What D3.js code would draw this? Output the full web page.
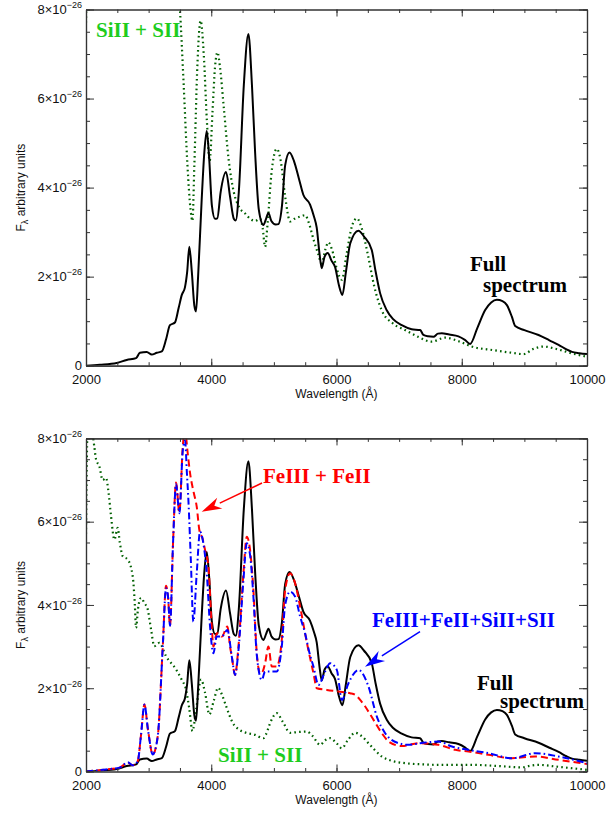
<!DOCTYPE html>
<html>
<head>
<meta charset="utf-8">
<script src="https://cdn.jsdelivr.net/npm/d3@7"></script>
<style>
  body { margin: 0; background: #fff; }
  svg { display: block; }
</style>
</head>
<body>
<div id="chart"></div>
<script>
// full spectrum, flux in units of 1e-26
const fullSpectrum = [
  [2000,0],[2220,0.02],[2490,0.06],[2650,0.13],[2800,0.17],[2860,0.29],[2970,0.31],[3050,0.25],
  [3130,0.29],[3210,0.32],[3280,0.6],[3340,0.91],[3420,0.97],[3480,1.3],[3530,1.59],[3580,1.76],
  [3615,2.1],[3650,2.67],[3690,2.1],[3730,1.35],[3757,1.22],[3790,2.0],[3847,3.72],[3890,4.8],
  [3928,5.27],[3965,4.7],[4010,3.6],[4060,3.3],[4097,3.31],[4150,3.9],[4236,4.35],[4300,3.8],
  [4360,3.3],[4391,3.26],[4440,3.9],[4520,6.3],[4593,7.45],[4650,6.3],[4700,4.8],[4760,3.5],
  [4833,3.16],[4875,3.3],[4913,3.43],[4960,3.25],[5030,3.17],[5073,3.18],[5130,3.6],[5180,4.5],
  [5250,4.79],[5320,4.6],[5400,4.2],[5470,3.84],[5578,3.62],[5640,3.35],[5684,3.1],[5730,2.5],
  [5764,2.19],[5810,2.45],[5860,2.53],[5920,2.36],[5977,2.22],[6040,1.8],[6094,1.59],[6150,2.1],
  [6220,2.75],[6350,3.03],[6440,2.9],[6563,2.6],[6620,2.15],[6696,1.63],[6800,1.25],[6900,1.05],
  [7042,0.91],[7200,0.82],[7335,0.8],[7388,0.69],[7460,0.66],[7548,0.65],[7620,0.72],[7681,0.73],
  [7800,0.7],[7947,0.66],[8050,0.58],[8134,0.49],[8250,0.85],[8374,1.25],[8470,1.42],[8561,1.48],
  [8650,1.45],[8721,1.36],[8800,1.1],[8853,0.89],[9000,0.8],[9226,0.69],[9400,0.57],[9546,0.47],
  [9680,0.36],[9760,0.31],[9880,0.28],[10000,0.26]
];

// SiII + SII, as scaled in the upper panel
const siliconTop = [
  [2000,7.7],[2030,9.5],[3400,9.5],[3500,8.0],[3560,6.3],[3620,4.5],[3670,3.5],[3700,3.25],
  [3730,4.5],[3780,6.8],[3830,7.75],[3880,7.0],[3930,5.5],[3975,4.6],[4020,5.7],[4060,6.7],
  [4100,7.04],[4140,6.7],[4200,5.8],[4280,4.6],[4360,3.9],[4450,3.55],[4540,3.42],[4620,3.3],
  [4700,3.25],[4780,3.3],[4820,3.1],[4860,2.67],[4900,3.2],[4960,4.3],[5046,4.87],[5110,4.6],
  [5180,3.8],[5260,3.24],[5330,3.3],[5420,3.35],[5500,3.38],[5560,3.2],[5640,2.8],[5710,2.5],
  [5760,2.3],[5820,2.6],[5870,2.77],[5930,2.6],[6000,2.2],[6085,1.93],[6160,2.5],[6250,3.15],
  [6325,3.31],[6400,3.1],[6500,2.5],[6600,1.8],[6720,1.25],[6900,0.95],[7096,0.8],[7300,0.65],
  [7520,0.54],[7735,0.63],[7950,0.55],[8160,0.43],[8500,0.35],[8800,0.29],[8985,0.26],[9150,0.38],
  [9305,0.43],[9500,0.38],[9750,0.28],[10000,0.2]
];

// SiII + SII, lower panel
const siliconBottom = [
  [2000,5.7],[2027,8.3],[2080,8.3],[2133,7.8],[2160,7.5],[2213,7.33],[2266,7.0],[2320,7.05],
  [2360,6.7],[2400,6.13],[2453,5.57],[2506,5.85],[2540,5.5],[2586,5.17],[2666,5.09],[2746,4.69],
  [2780,4.0],[2799,3.45],[2830,3.9],[2879,4.17],[2930,4.05],[2986,3.89],[3040,3.4],[3091,3.01],
  [3171,3.09],[3278,2.77],[3438,2.45],[3530,2.2],[3597,1.97],[3650,1.5],[3700,0.97],[3760,1.5],
  [3837,2.21],[3900,1.9],[3970,1.37],[4040,1.7],[4110,2.01],[4170,1.85],[4237,1.57],[4343,1.17],
  [4450,1.0],[4556,0.93],[4700,0.88],[4833,0.8],[4870,0.88],[4950,1.2],[5046,1.4],[5140,1.2],
  [5259,0.93],[5400,0.95],[5525,0.96],[5620,0.85],[5738,0.64],[5820,0.75],[5898,0.8],[6000,0.68],
  [6085,0.56],[6180,0.75],[6297,0.93],[6400,0.85],[6510,0.68],[6620,0.5],[6723,0.36],[6900,0.25],
  [7096,0.2],[7400,0.17],[7628,0.16],[8160,0.16],[8600,0.13],[8958,0.1],[9100,0.14],[9225,0.16],
  [9500,0.12],[10000,0.04]
];

// FeIII + FeII
const ironOnly = [
  [2000,0],[2320,0.05],[2533,0.09],[2666,0.21],[2746,0.15],[2826,0.25],[2880,0.9],[2933,1.61],
  [2990,1.0],[3066,0.41],[3146,0.85],[3226,3.01],[3278,4.46],[3310,4.2],[3342,3.5],[3390,5.5],
  [3438,6.94],[3491,6.22],[3545,7.8],[3582,8.2],[3620,7.7],[3662,7.16],[3720,6.7],[3768,6.36],
  [3810,5.8],[3860,5.6],[3901,5.32],[3954,4.92],[4008,3.48],[4034,3.0],[4088,3.32],[4130,3.3],
  [4168,3.24],[4258,3.48],[4300,3.0],[4328,2.76],[4381,2.32],[4434,3.0],[4514,4.76],[4567,5.64],
  [4620,5.32],[4673,4.36],[4727,2.84],[4780,2.36],[4820,2.4],[4860,2.6],[4913,3.0],[4967,2.52],
  [5046,2.52],[5126,3.16],[5180,4.36],[5260,4.76],[5339,4.52],[5419,3.96],[5526,3.1],[5632,2.36],
  [5686,2.0],[5845,1.96],[6031,1.92],[6218,1.88],[6298,1.84],[6378,1.72],[6458,1.56],[6591,1.24],
  [6724,0.92],[6850,0.7],[7043,0.61],[7310,0.68],[7628,0.64],[7896,0.52],[8109,0.48],[8428,0.4],
  [8802,0.32],[9173,0.36],[9546,0.28],[10000,0.18]
];

// FeIII + FeII + SiII + SII
const ironSilicon = [
  [2000,0],[2320,0.05],[2533,0.09],[2666,0.22],[2746,0.15],[2826,0.25],[2880,0.9],[2933,1.61],
  [2990,1.0],[3066,0.41],[3146,0.85],[3226,3.01],[3278,4.4],[3310,4.2],[3342,3.5],[3390,5.5],
  [3438,6.9],[3491,6.2],[3545,7.7],[3582,7.95],[3610,7.2],[3635,6.52],[3672,5.16],[3714,3.6],
  [3768,4.76],[3821,5.76],[3874,5.48],[3928,4.76],[3981,3.48],[4034,2.84],[4088,3.24],[4168,3.24],
  [4258,3.4],[4328,2.76],[4381,2.32],[4434,2.9],[4514,4.6],[4567,5.48],[4620,5.2],[4673,4.2],
  [4727,2.8],[4807,2.2],[4860,2.4],[4967,2.4],[5046,2.4],[5126,3.0],[5180,4.0],[5260,4.32],
  [5339,4.2],[5419,3.72],[5498,3.32],[5560,2.9],[5632,2.52],[5712,2.08],[5818,2.4],[5898,2.6],
  [6005,2.44],[6085,1.72],[6191,2.12],[6351,2.44],[6511,2.04],[6644,1.32],[6777,0.92],[6990,0.68],
  [7150,0.64],[7336,0.68],[7628,0.72],[7843,0.6],[8109,0.52],[8428,0.44],[8802,0.32],[9173,0.44],
  [9546,0.36],[10000,0.2]
];

const xMajor = [2000, 4000, 6000, 8000, 10000];
const xMinor = d3.range(2000, 10001, 500);
const yMajor = [0, 2, 4, 6, 8];
const yMinor = d3.range(0, 8.01, 0.5);

const W = 610, H = 814;
const left = 86, right = 587;

const svg = d3.select("#chart").append("svg")
    .attr("width", W)
    .attr("height", H)
    .style("font-family", "'Liberation Sans', Arial, sans-serif");

const x = d3.scaleLinear().domain([2000, 10000]).range([left, right]);

const panels = [
    { id: "top", y0: 365.7, y1: 9.5 },
    { id: "bot", y0: 771.5, y1: 438.4 }
];
panels.forEach(p => { p.y = d3.scaleLinear().domain([0, 8]).range([p.y0, p.y1]); });

const defs = svg.append("defs");
panels.forEach(p => {
    defs.append("clipPath").attr("id", "clip-" + p.id)
        .append("rect")
        .attr("x", left).attr("y", p.y1)
        .attr("width", right - left).attr("height", p.y0 - p.y1);
});

const drawLine = (p, data, color, width, dash) => {
    const line = d3.line()
        .x(d => x(d[0]))
        .y(d => p.y(d[1]))
        .curve(d3.curveMonotoneX);
    svg.append("path")
        .datum(data)
        .attr("clip-path", `url(#clip-${p.id})`)
        .attr("d", line)
        .attr("fill", "none")
        .attr("stroke", color)
        .attr("stroke-width", width)
        .attr("stroke-linejoin", "round")
        .attr("stroke-dasharray", dash);
};

const axisColor = "#333";

const drawAxes = p => {
    const styleAxis = g => {
        g.select(".domain").attr("stroke", axisColor).attr("stroke-width", 1.2);
        g.selectAll(".tick line").attr("stroke", axisColor).attr("stroke-width", 1);
    };
    // minor ticks
    svg.append("g").attr("transform", `translate(0,${p.y0})`)
        .call(d3.axisBottom(x).tickValues(xMinor).tickSize(-3.5).tickSizeOuter(0).tickFormat(""))
        .call(styleAxis);
    svg.append("g").attr("transform", `translate(0,${p.y1})`)
        .call(d3.axisTop(x).tickValues(xMinor).tickSize(-3.5).tickSizeOuter(0).tickFormat(""))
        .call(styleAxis);
    svg.append("g").attr("transform", `translate(${left},0)`)
        .call(d3.axisLeft(p.y).tickValues(yMinor).tickSize(-4).tickSizeOuter(0).tickFormat(""))
        .call(styleAxis);
    svg.append("g").attr("transform", `translate(${right},0)`)
        .call(d3.axisRight(p.y).tickValues(yMinor).tickSize(-4).tickSizeOuter(0).tickFormat(""))
        .call(styleAxis);

    // major ticks
    svg.append("g").attr("transform", `translate(0,${p.y0})`)
        .call(d3.axisBottom(x).tickValues(xMajor).tickSize(-7).tickSizeOuter(0)
            .tickPadding(9.5).tickFormat(d3.format("d")))
        .call(styleAxis)
        .call(g => g.selectAll("text").attr("font-size", 13).attr("fill", "#111")
            .attr("font-family", "'Liberation Sans', Arial, sans-serif"));
    svg.append("g").attr("transform", `translate(0,${p.y1})`)
        .call(d3.axisTop(x).tickValues(xMajor).tickSize(-7).tickSizeOuter(0).tickFormat(""))
        .call(styleAxis);
    svg.append("g").attr("transform", `translate(${right},0)`)
        .call(d3.axisRight(p.y).tickValues(yMajor).tickSize(-8).tickSizeOuter(0).tickFormat(""))
        .call(styleAxis);
    svg.append("g").attr("transform", `translate(${left},0)`)
        .call(d3.axisLeft(p.y).tickValues(yMajor).tickSize(-8).tickSizeOuter(0).tickPadding(4))
        .call(styleAxis)
        .call(g => g.selectAll("text").each(function (d) {
            const t = d3.select(this).text("")
                .attr("font-size", 13).attr("fill", "#111")
                .attr("font-family", "'Liberation Sans', Arial, sans-serif");
            if (d === 0) { t.text("0"); return; }
            t.append("tspan").text(d + "×10");
            t.append("tspan").attr("dy", -6).attr("font-size", 9).text("−26");
        }));

    // axis titles
    svg.append("text")
        .attr("x", (left + right) / 2)
        .attr("y", p.y0 + 32)
        .attr("text-anchor", "middle")
        .attr("font-size", 12)
        .attr("fill", "#111")
        .text("Wavelength (Å)");

    const yt = svg.append("text")
        .attr("transform", `translate(25,${(p.y0 + p.y1) / 2}) rotate(-90)`)
        .attr("text-anchor", "middle")
        .attr("font-size", 12)
        .attr("fill", "#111");
    yt.append("tspan").text("F");
    yt.append("tspan").attr("dy", 3).attr("font-size", 9).text("λ");
    yt.append("tspan").attr("dy", -3).text(" arbitrary units");
};

const label = (text, px, py, color) => {
    svg.append("text")
        .attr("x", px).attr("y", py)
        .attr("font-family", "'Liberation Serif', 'Times New Roman', serif")
        .attr("font-weight", "bold")
        .attr("font-size", 21)
        .attr("fill", color)
        .text(text);
};

const arrow = (x1, y1, x2, y2, color) => {
    const ang = Math.atan2(y2 - y1, x2 - x1);
    const len = 20, half = 6;
    const bx = x2 - len * Math.cos(ang), by = y2 - len * Math.sin(ang);
    const nx = -Math.sin(ang), ny = Math.cos(ang);
    svg.append("line")
        .attr("x1", x1).attr("y1", y1).attr("x2", bx).attr("y2", by)
        .attr("stroke", color).attr("stroke-width", 1.5);
    svg.append("path")
        .attr("d", `M${x2},${y2} L${bx + nx * half},${by + ny * half} L${x2 - 0.7 * len * Math.cos(ang)},${y2 - 0.7 * len * Math.sin(ang)} L${bx - nx * half},${by - ny * half} Z`)
        .attr("fill", color);
};

const green = "#006000", labelGreen = "#1ecc1e";
const dotted = "1.6,3.2", dashed = "7,4", dashDot = "7,3,1.6,3";

// upper panel
const pt = panels[0];
drawLine(pt, siliconTop, green, 2.2, dotted);
drawLine(pt, fullSpectrum, "#000", 2);
drawAxes(pt);
label("SiII + SII", 96, 37, labelGreen);
label("Full", 470, 270.5, "#000");
label("spectrum", 483, 292, "#000");

// lower panel
const pb = panels[1];
drawLine(pb, siliconBottom, green, 2.2, dotted);
drawLine(pb, fullSpectrum, "#000", 2);
drawLine(pb, ironOnly, "#ff0000", 2, dashed);
drawLine(pb, ironSilicon, "#0000ff", 2, dashDot);
drawAxes(pb);
label("FeIII + FeII", 263, 483, "#ff0000");
arrow(262, 483, 201.7, 511.7, "#ff0000");
label("FeIII+FeII+SiII+SII", 372, 626.5, "#0000ff");
arrow(420, 631.7, 365, 666.7, "#0000ff");
label("Full", 477, 690, "#000");
label("spectrum", 500, 708, "#000");
label("SiII + SII", 218, 761.5, labelGreen);
</script>
</body>
</html>
